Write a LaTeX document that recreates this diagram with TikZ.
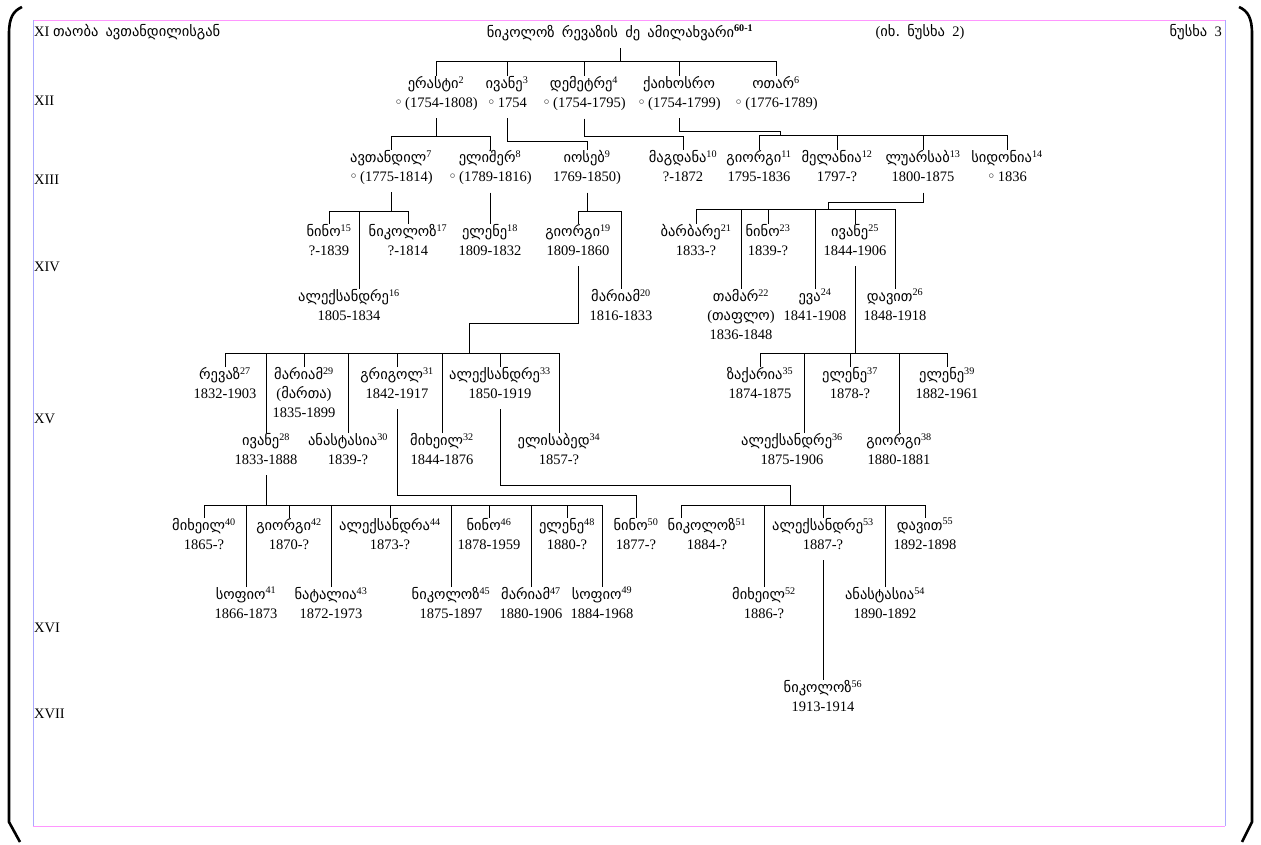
\documentclass[tikz,border=0pt]{standalone}
\usepackage{fontspec}
\setmainfont{Liberation Serif}
\newfontfamily\geo{DejaVu Sans}
\newcommand{\fs}{\fontsize{14.5}{19}\selectfont}
\newcommand{\who}[2]{{\geo #1}\textsuperscript{#2}}
\newcommand{\ring}{{\geo ◦}\,}
\definecolor{framepink}{RGB}{255,150,255}
\definecolor{framelav}{RGB}{170,170,255}

\begin{document}
\begin{tikzpicture}[x=1pt, y=-1pt]
        % Define block styles
        \tikzstyle{person} = [anchor=north, align=center, inner sep=0pt, font=\fs,
            execute at begin node={\rule{0pt}{18pt}}, execute at end node={\rule[-11pt]{0pt}{11pt}}]
        \tikzstyle{title} = [anchor=base, inner sep=0pt, font=\fs]
        \tikzstyle{gen} = [anchor=west, inner sep=0pt, font=\fs]
        \tikzstyle{line} = [draw, line width=1pt]
        \tikzstyle{bracket} = [draw, line width=2.6pt]

        \useasboundingbox (0,0) rectangle (1261,845);

        % Frame and brackets
        \draw[framepink] (33,20) -- (1225,20) (33,826) -- (1225,826);
        \draw[framelav] (33,20) -- (33,826) (1225,20) -- (1225,826);
        \path[bracket] (22,7) .. controls (13,11) and (9,18) .. (9,34) -- (9,822) -- (20,842);
        \path[bracket] (1239,7) .. controls (1248,11) and (1252,18) .. (1252,34) -- (1252,822) -- (1242,842);

        % Headings
        \node[title, anchor=base west] (hdleft) at (34,37) {XI {\geo თაობა\enspace ავთანდილისგან}};
        \node[person] (root) at (620,19) {{\geo ნიკოლოზ\enspace რევაზის\enspace ძე\enspace ამილახვარი}\textsuperscript{\textbf{60-1}}};
        \node[title] (see2) at (920,37) {({\geo იხ.\enspace ნუსხა}\enspace 2)};
        \node[title, anchor=base east] (list3) at (1222,37) {{\geo ნუსხა}\enspace 3};

        % Generations
        \node[gen] (g12) at (34,101) {XII};
        \node[gen] (g13) at (34,180) {XIII};
        \node[gen] (g14) at (34,267) {XIV};
        \node[gen] (g15) at (34,419) {XV};
        \node[gen] (g16) at (34,628) {XVI};
        \node[gen] (g17) at (34,714) {XVII};

        % Nodes XII
        \node[person] (erasti2) at (436,76) {\who{ერასტი}{2}\\\ring(1754-1808)};
        \node[person] (ivane3) at (507,76) {\who{ივანე}{3}\\\ring1754};
        \node[person] (demetre4) at (584,76) {\who{დემეტრე}{4}\\\ring(1754-1795)};
        \node[person] (kaikhosro5) at (679,76) {{\geo ქაიხოსრო}\\\ring(1754-1799)};
        \node[person] (otar6) at (776,76) {\who{ოთარ}{6}\\\ring(1776-1789)};

        % Nodes XIII
        \node[person] (avtandil7) at (391,150) {\who{ავთანდილ}{7}\\\ring(1775-1814)};
        \node[person] (elisher8) at (490,150) {\who{ელიშერ}{8}\\\ring(1789-1816)};
        \node[person] (ioseb9) at (587,150) {\who{იოსებ}{9}\\1769-1850)};
        \node[person] (magdana10) at (683,150) {\who{მაგდანა}{10}\\?-1872};
        \node[person] (giorgi11) at (759,150) {\who{გიორგი}{11}\\1795-1836};
        \node[person] (melania12) at (837,150) {\who{მელანია}{12}\\1797-?};
        \node[person] (luarsab13) at (923,150) {\who{ლუარსაბ}{13}\\1800-1875};
        \node[person] (sidonia14) at (1007,150) {\who{სიდონია}{14}\\\ring1836};

        % Nodes XIV
        \node[person] (nino15) at (329,224) {\who{ნინო}{15}\\?-1839};
        \node[person] (nikoloz17) at (408,224) {\who{ნიკოლოზ}{17}\\?-1814};
        \node[person] (elene18) at (490,224) {\who{ელენე}{18}\\1809-1832};
        \node[person] (giorgi19) at (578,224) {\who{გიორგი}{19}\\1809-1860};
        \node[person] (barbare21) at (696,224) {\who{ბარბარე}{21}\\1833-?};
        \node[person] (nino23) at (768,224) {\who{ნინო}{23}\\1839-?};
        \node[person] (ivane25) at (855,224) {\who{ივანე}{25}\\1844-1906};
        \node[person] (aleksandre16) at (349,289) {\who{ალექსანდრე}{16}\\1805-1834};
        \node[person] (mariam20) at (621,289) {\who{მარიამ}{20}\\1816-1833};
        \node[person] (tamar22) at (741,289) {\who{თამარ}{22}\\({\geo თაფლო})\\1836-1848};
        \node[person] (eva24) at (815,289) {\who{ევა}{24}\\1841-1908};
        \node[person] (davit26) at (895,289) {\who{დავით}{26}\\1848-1918};

        % Nodes XV
        \node[person] (revaz27) at (225,367) {\who{რევაზ}{27}\\1832-1903};
        \node[person] (mariam29) at (304,367) {\who{მარიამ}{29}\\({\geo მართა})\\1835-1899};
        \node[person] (grigol31) at (397,367) {\who{გრიგოლ}{31}\\1842-1917};
        \node[person] (aleksandre33) at (500,367) {\who{ალექსანდრე}{33}\\1850-1919};
        \node[person] (zakaria35) at (760,367) {\who{ზაქარია}{35}\\1874-1875};
        \node[person] (elene37) at (850,367) {\who{ელენე}{37}\\1878-?};
        \node[person] (elene39) at (947,367) {\who{ელენე}{39}\\1882-1961};
        \node[person] (ivane28) at (266,433) {\who{ივანე}{28}\\1833-1888};
        \node[person] (anastasia30) at (348,433) {\who{ანასტასია}{30}\\1839-?};
        \node[person] (mikheil32) at (442,433) {\who{მიხეილ}{32}\\1844-1876};
        \node[person] (elisabed34) at (559,433) {\who{ელისაბედ}{34}\\1857-?};
        \node[person] (aleksandre36) at (792,433) {\who{ალექსანდრე}{36}\\1875-1906};
        \node[person] (giorgi38) at (899,433) {\who{გიორგი}{38}\\1880-1881};

        % Nodes XVI
        \node[person] (mikheil40) at (204,518) {\who{მიხეილ}{40}\\1865-?};
        \node[person] (giorgi42) at (289,518) {\who{გიორგი}{42}\\1870-?};
        \node[person] (aleksandra44) at (390,518) {\who{ალექსანდრა}{44}\\1873-?};
        \node[person] (nino46) at (489,518) {\who{ნინო}{46}\\1878-1959};
        \node[person] (elene48) at (567,518) {\who{ელენე}{48}\\1880-?};
        \node[person] (nino50) at (636,518) {\who{ნინო}{50}\\1877-?};
        \node[person] (nikoloz51) at (707,518) {\who{ნიკოლოზ}{51}\\1884-?};
        \node[person] (aleksandre53) at (823,518) {\who{ალექსანდრე}{53}\\1887-?};
        \node[person] (davit55) at (925,518) {\who{დავით}{55}\\1892-1898};
        \node[person] (sofio41) at (246,587) {\who{სოფიო}{41}\\1866-1873};
        \node[person] (natalia43) at (331,587) {\who{ნატალია}{43}\\1872-1973};
        \node[person] (nikoloz45) at (451,587) {\who{ნიკოლოზ}{45}\\1875-1897};
        \node[person] (mariam47) at (531,587) {\who{მარიამ}{47}\\1880-1906};
        \node[person] (sofio49) at (602,587) {\who{სოფიო}{49}\\1884-1968};
        \node[person] (mikheil52) at (764,587) {\who{მიხეილ}{52}\\1886-?};
        \node[person] (anastasia54) at (885,587) {\who{ანასტასია}{54}\\1890-1892};

        % Nodes XVII
        \node[person] (nikoloz56) at (823,680) {\who{ნიკოლოზ}{56}\\1913-1914};

        % Lines
        \coordinate (b1) at (620,62);
        \path[line] (root.south) -- (b1);
        \path[line] (erasti2.north) |- (otar6.north |- b1) -- (otar6.north);
        \foreach \c in {ivane3,demetre4,kaikhosro5}
            \path[line] (\c.north) -- (\c.north |- b1);

        \coordinate (b2) at (436,137);
        \path[line] (erasti2.south) -- (b2);
        \path[line] (avtandil7.north) |- (elisher8.north |- b2) -- (elisher8.north);
        \coordinate (b3) at (507,142);
        \path[line] (ivane3.south) -- (b3) -| (ioseb9.north);
        \coordinate (b4) at (584,137);
        \path[line] (demetre4.south) -- (b4) -| (magdana10.north);
        \coordinate (b5) at (679,132);
        \coordinate (b6) at (780,136);
        \path[line] (kaikhosro5.south) -- (b5) -| (b6);
        \path[line] (giorgi11.north) |- (sidonia14.north |- b6) -- (sidonia14.north);
        \foreach \c in {melania12,luarsab13}
            \path[line] (\c.north) -- (\c.north |- b6);

        \coordinate (b7) at (391,212);
        \path[line] (avtandil7.south) -- (b7);
        \path[line] (nino15.north) |- (nikoloz17.north |- b7) -- (nikoloz17.north);
        \path[line] ([xshift=10pt]aleksandre16.north) -- ([xshift=10pt]aleksandre16.north |- b7);
        \path[line] (elisher8.south) -- (elene18.north);
        \coordinate (b8) at (587,212);
        \path[line] (ioseb9.south) -- (b8);
        \path[line] (giorgi19.north) |- (mariam20.north |- b8) -- (mariam20.north);
        \coordinate (b9) at (923,203);
        \coordinate (b10) at (828,210);
        \path[line] (luarsab13.south) -- (b9) -| (b10);
        \path[line] (barbare21.north) |- (davit26.north |- b10) -- (davit26.north);
        \foreach \c in {tamar22,nino23,eva24,ivane25}
            \path[line] (\c.north) -- (\c.north |- b10);

        \coordinate (b11) at (469,323);
        \coordinate (b12) at (469,353);
        \path[line] (giorgi19.south) |- (b11) -- (b12);
        \path[line] (revaz27.north) |- (elisabed34.north |- b12) -- (elisabed34.north);
        \foreach \c in {ivane28,mariam29,anastasia30,grigol31,mikheil32,aleksandre33}
            \path[line] (\c.north) -- (\c.north |- b12);
        \coordinate (b13) at (855,353);
        \path[line] (ivane25.south) -- (b13);
        \path[line] (zakaria35.north) |- (elene39.north |- b13) -- (elene39.north);
        \path[line] ([xshift=12pt]aleksandre36.north) -- ([xshift=12pt]aleksandre36.north |- b13);
        \foreach \c in {elene37,giorgi38}
            \path[line] (\c.north) -- (\c.north |- b13);

        \coordinate (b14) at (266,505);
        \path[line] (ivane28.south) -- (b14);
        \path[line] (mikheil40.north) |- (sofio49.north |- b14) -- (sofio49.north);
        \foreach \c in {sofio41,giorgi42,natalia43,aleksandra44,nikoloz45,nino46,mariam47,elene48}
            \path[line] (\c.north) -- (\c.north |- b14);
        \coordinate (b15) at (397,495);
        \path[line] (grigol31.south) -- (b15) -| (nino50.north);
        \coordinate (b16) at (500,485);
        \coordinate (b17) at (790,505);
        \path[line] (aleksandre33.south) -- (b16) -| (b17);
        \path[line] ([xshift=-26pt]nikoloz51.north) |- (davit55.north |- b17) -- (davit55.north);
        \foreach \c in {mikheil52,aleksandre53,anastasia54}
            \path[line] (\c.north) -- (\c.north |- b17);
        \path[line] (aleksandre53.south) -- (nikoloz56.north);
\end{tikzpicture}
\end{document}
